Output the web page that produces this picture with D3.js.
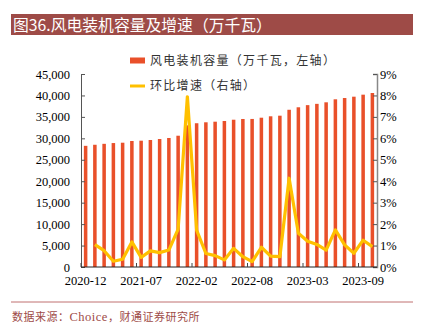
<!DOCTYPE html>
<html><head><meta charset="utf-8">
<script src="https://cdn.jsdelivr.net/npm/d3@7"></script>
<style>body{margin:0;background:#fff}svg{display:block}</style>
</head><body>
<div id="chart"></div>
<script>
const categories = ["2020-12","2021-02","2021-03","2021-04","2021-05","2021-06","2021-07","2021-08","2021-09","2021-10","2021-11","2021-12",
  "2022-02","2022-03","2022-04","2022-05","2022-06","2022-07","2022-08","2022-09","2022-10","2022-11","2022-12",
  "2023-02","2023-03","2023-04","2023-05","2023-06","2023-07","2023-08","2023-09","2023-10"];
const capacity = [28250,28500,28720,28900,28980,29380,29450,29610,29840,30080,30610,33030,
  33520,33740,33880,34040,34340,34510,34520,34810,35140,35280,36660,
  37240,37740,38040,38400,39100,39400,39710,40180,40570];
const growth = [null,1.04,0.76,0.27,0.36,1.17,0.45,0.75,0.67,0.79,1.77,7.94,
  1.72,0.63,0.53,0.33,0.87,0.48,0.25,0.92,0.51,0.48,4.14,
  1.57,1.2,1.05,0.79,1.73,1.03,0.64,1.25,0.95];
const leftTicks = [0,5000,10000,15000,20000,25000,30000,35000,40000,45000];
const rightTicks = [0,1,2,3,4,5,6,7,8,9];
const xTickLabels = ["2020-12","2021-07","2022-02","2022-08","2023-03","2023-09"];
const titleText = "图36.风电装机容量及增速（万千瓦）";
const sourceParts = ["数据来源：","Choice","，财通证券研究所"];
const legendLabels = ["风电装机容量（万千瓦，左轴）","环比增速（右轴）"];

const W=422,H=323;
const svg=d3.select("#chart").append("svg").attr("width",W).attr("height",H);
const serif="'Liberation Serif','Times New Roman',serif";
const cjk="'Noto Sans CJK SC',sans-serif";
const barColor="#E9502A", lineColor="#FFC000", brand="#9E4B47";

// title
svg.append("rect").attr("x",11).attr("y",14).attr("width",402).attr("height",21).attr("fill",brand);
svg.append("text").attr("x",13).attr("y",30.5).attr("fill","#fff").attr("font-family",cjk)
  .attr("font-size",15.8).text(titleText);

const L=81,R=377,T=74,B=267;
const x=d3.scaleBand().domain(categories).range([L,R]).paddingInner(0.62).paddingOuter(0.31);
const yL=d3.scaleLinear().domain([0,45000]).range([B,T]);
const yR=d3.scaleLinear().domain([0,9]).range([B,T]);

// bars
svg.append("g").selectAll("rect").data(categories).join("rect")
  .attr("x",d=>x(d)).attr("width",x.bandwidth())
  .attr("y",(d,i)=>yL(capacity[i])).attr("height",(d,i)=>B-yL(capacity[i]))
  .attr("fill",barColor);

// line
const line=d3.line().defined(d=>d.v!=null).x(d=>x(d.c)+x.bandwidth()/2).y(d=>yR(d.v));
svg.append("path").datum(categories.map((c,i)=>({c,v:growth[i]})))
  .attr("d",line).attr("fill","none").attr("stroke",lineColor).attr("stroke-width",3.2)
  .attr("stroke-linejoin","round");

// left axis
const gL=svg.append("g").attr("transform",`translate(${L},0)`)
  .call(d3.axisLeft(yL).tickValues(leftTicks).tickSize(-4).tickPadding(11).tickFormat(d3.format(",")));
gL.select(".domain").attr("stroke","#555");
gL.selectAll(".tick line").attr("stroke","#555");
gL.selectAll("text").attr("font-family",serif).attr("font-size",12.5).attr("fill","#000");

// right axis
const gR=svg.append("g").attr("transform",`translate(${R},0)`)
  .call(d3.axisRight(yR).tickValues(rightTicks).tickSize(-4).tickPadding(3).tickFormat(d=>d+"%"));
gR.select(".domain").attr("stroke","#888").attr("stroke-width",1.5);
gR.selectAll(".tick line").attr("stroke","#555");
gR.selectAll("text").attr("font-family",serif).attr("font-size",12.5).attr("fill","#000");

// x axis
const step=x.step();
const gX=svg.append("g").attr("transform",`translate(0,${B})`);
gX.append("line").attr("x1",L).attr("x2",R).attr("y1",0).attr("y2",0).attr("stroke","#222");
xTickLabels.forEach(lbl=>{
  const cx=x(lbl)+x.bandwidth()/2;
  const left=cx-step/2;
  gX.append("line").attr("x1",left).attr("x2",left).attr("y1",0).attr("y2",-4).attr("stroke","#444");
  gX.append("text").attr("x",cx).attr("y",17.5).attr("text-anchor","middle")
    .attr("font-family",serif).attr("font-size",12.5).attr("fill","#000").text(lbl);
});

// legend
svg.append("rect").attr("x",130).attr("y",57.5).attr("width",15).attr("height",6).attr("fill",barColor);
svg.append("text").attr("x",150).attr("y",65).attr("font-family",cjk).attr("font-size",12)
  .attr("letter-spacing",1.3).attr("fill","#333").text(legendLabels[0]);
svg.append("line").attr("x1",130).attr("x2",145).attr("y1",86).attr("y2",86).attr("stroke",lineColor).attr("stroke-width",3);
svg.append("text").attr("x",150).attr("y",90).attr("font-family",cjk).attr("font-size",12)
  .attr("letter-spacing",1.3).attr("fill","#333").text(legendLabels[1]);

// footer
svg.append("line").attr("x1",11).attr("x2",413).attr("y1",302).attr("y2",302).attr("stroke","#C07070").attr("stroke-width",1);
const ft=svg.append("text").attr("x",12).attr("y",321).attr("font-family",cjk).attr("font-size",11)
  .attr("letter-spacing",0.5).attr("fill",brand);
ft.append("tspan").text(sourceParts[0]);
ft.append("tspan").attr("font-family",serif).attr("font-size",12.5).text(sourceParts[1]);
ft.append("tspan").text(sourceParts[2]);
</script>
</body></html>
